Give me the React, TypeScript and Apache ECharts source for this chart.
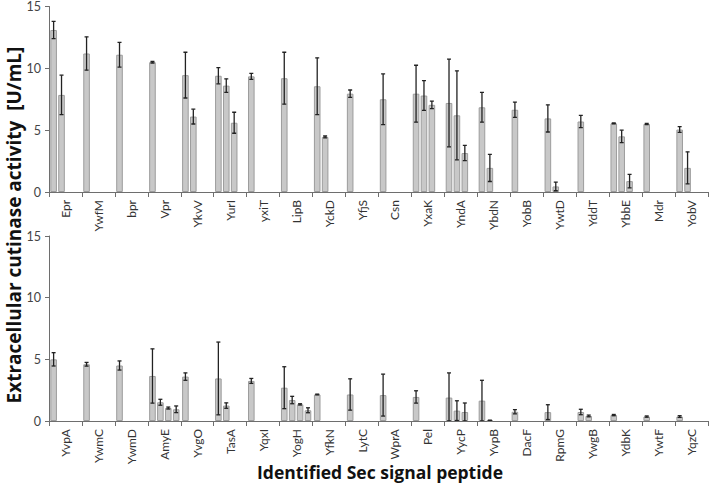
import React, { useEffect, useRef } from "react";
import * as echarts from "echarts";

// ---- Data (top panel) ----
const topCategories = ["Epr", "YwfM", "bpr", "Vpr", "YkvV", "YurI", "yxiT", "LipB", "YckD", "YfjS", "Csn", "YxaK", "YndA", "YbdN", "YobB", "YwtD", "YddT", "YbbE", "Mdr", "YobV"];
const topS1 = [13.1, 11.2, 11.1, 10.5, 9.45, 9.4, 9.35, 9.2, 8.55, 7.95, 7.5, 7.95, 7.2, 6.85, 6.65, 5.95, 5.7, 5.55, 5.5, 5.05];
const topE1 = [0.7, 1.35, 1.0, 0.07, 1.85, 0.65, 0.25, 2.1, 2.3, 0.3, 2.05, 2.3, 3.55, 1.2, 0.62, 1.1, 0.5, 0.03, 0.05, 0.23];
const topS2 = [7.85, null, null, null, 6.1, 8.6, null, null, 4.45, null, null, 7.8, 6.2, 1.95, null, 0.45, null, 4.5, null, 1.95];
const topE2 = [1.6, null, null, null, 0.6, 0.55, null, null, 0.08, null, null, 1.2, 3.6, 1.1, null, 0.35, null, 0.5, null, 1.3];
const topS3 = [null, null, null, null, null, 5.6, null, null, null, null, null, 7.05, 3.15, null, null, null, null, 0.88, null, null];
const topE3 = [null, null, null, null, null, 0.85, null, null, null, null, null, 0.3, 0.62, null, null, null, null, 0.55, null, null];
const topS4 = [null, null, null, null, null, null, null, null, null, null, null, null, null, null, null, null, null, null, null, null];
const topE4 = [null, null, null, null, null, null, null, null, null, null, null, null, null, null, null, null, null, null, null, null];

// ---- Data (bottom panel) ----
const botCategories = ["YvpA", "YwmC", "YwmD", "AmyE", "YvgO", "TasA", "YqxI", "YogH", "YfkN", "LytC", "WprA", "Pel", "YycP", "YvpB", "DacF", "RpmG", "YwgB", "YdbK", "YwtF", "YqzC"];
const botS1 = [5.0, 4.6, 4.5, 3.65, 3.6, 3.45, 3.25, 2.7, 2.15, 2.15, 2.1, 1.95, 1.9, 1.65, 0.75, 0.72, 0.73, 0.48, 0.36, 0.36];
const botE1 = [0.54, 0.15, 0.37, 2.2, 0.3, 2.95, 0.2, 1.7, 0.03, 1.27, 1.7, 0.5, 2.0, 1.65, 0.17, 0.6, 0.22, 0.05, 0.05, 0.07];
const botS2 = [null, null, null, 1.52, null, 1.25, null, 1.7, null, null, null, null, 0.84, 0.05, null, null, 0.41, null, null, null];
const botE2 = [null, null, null, 0.24, null, 0.22, null, 0.3, null, null, null, null, 0.8, 0.02, null, null, 0.07, null, null, null];
const botS3 = [null, null, null, 1.05, null, null, null, 1.35, null, null, null, null, 0.73, null, null, null, null, null, null, null];
const botE3 = [null, null, null, 0.08, null, null, null, 0.05, null, null, null, null, 0.73, null, null, null, null, null, null, null];
const botS4 = [null, null, null, 0.95, null, null, null, 0.87, null, null, null, null, null, null, null, null, null, null, null, null];
const botE4 = [null, null, null, 0.27, null, null, null, 0.2, null, null, null, null, null, null, null, null, null, null, null, null];

const yTicks = { min: 0, max: 15, interval: 5 };
const yTitle = "Extracellular cutinase activity  [U/mL]";
const xTitle = "Identified Sec signal peptide";

const CAT_GAP = 0.08;
const BAR_GAP = 0.2;
const N_SLOTS = 4;

const FONT = "Lato, 'Open Sans', sans-serif";
const TITLE_FONT = "'Open Sans', Lato, sans-serif";

function barSeries(vals: (number | null)[], axis: number) {
  return {
    type: "bar",
    xAxisIndex: axis,
    yAxisIndex: axis,
    data: vals.map((v) => (v == null ? "-" : v)),
    barCategoryGap: CAT_GAP * 100 + "%",
    barGap: BAR_GAP * 100 + "%",
    itemStyle: { color: "#c8c8c8", borderColor: "#9c9c9c", borderWidth: 1 },
    silent: true,
  };
}

function errSeries(vals: (number | null)[], errs: (number | null)[], slot: number, axis: number) {
  const data: number[][] = [];
  vals.forEach((v, i) => {
    if (v != null && errs[i] != null) data.push([i, v, errs[i] as number]);
  });
  return {
    type: "custom",
    xAxisIndex: axis,
    yAxisIndex: axis,
    data,
    silent: true,
    clip: true,
    z: 5,
    renderItem: (params: any, api: any) => {
      const xi = api.value(0);
      const v = api.value(1);
      const e = api.value(2);
      const c = api.coord([xi, v]);
      const catW = api.size([1, 0])[0];
      const inner = catW * (1 - CAT_GAP);
      const w = inner / (N_SLOTS + (N_SLOTS - 1) * BAR_GAP);
      const cx = c[0] - inner / 2 + slot * w * (1 + BAR_GAP) + w / 2;
      const yTop = api.coord([xi, v + e])[1];
      const yBot = api.coord([xi, Math.max(0, v - e)])[1];
      const cap = 2;
      const st = { stroke: "#222", lineWidth: 1.3 };
      return {
        type: "group",
        children: [
          { type: "line", shape: { x1: cx, y1: yTop, x2: cx, y2: yBot }, style: st },
          { type: "line", shape: { x1: cx - cap, y1: yTop, x2: cx + cap, y2: yTop }, style: st },
          { type: "line", shape: { x1: cx - cap, y1: yBot, x2: cx + cap, y2: yBot }, style: st },
        ],
      };
    },
  };
}

function xAxisDef(cats: string[], idx: number) {
  return {
    type: "category",
    gridIndex: idx,
    data: cats,
    boundaryGap: true,
    axisLine: { show: true, lineStyle: { color: "#6e6e6e", width: 1 } },
    axisTick: { show: true, length: 5, lineStyle: { color: "#6e6e6e" } },
    axisLabel: { rotate: 90, interval: 0, fontSize: 12, color: "#333", fontFamily: FONT, margin: 8 },
  };
}

function yAxisDef(idx: number) {
  return {
    type: "value",
    gridIndex: idx,
    min: yTicks.min,
    max: yTicks.max,
    interval: yTicks.interval,
    splitLine: { show: false },
    axisLine: { show: true, lineStyle: { color: "#6e6e6e", width: 1 } },
    axisTick: { show: true, length: 4, lineStyle: { color: "#6e6e6e" } },
    axisLabel: { fontSize: 12.5, color: "#444", fontFamily: FONT, margin: 8 },
  };
}

export default function App() {
  const ref = useRef<HTMLDivElement>(null);
  useEffect(() => {
    if (!ref.current) return;
    const chart = echarts.init(ref.current, null, { renderer: "svg" });
    chart.setOption({
      animation: false,
      backgroundColor: "#fff",
      grid: [
        { left: 49, top: 5, width: 659, height: 187 },
        { left: 49, top: 236, width: 659, height: 185 },
      ],
      xAxis: [xAxisDef(topCategories, 0), xAxisDef(botCategories, 1)],
      yAxis: [yAxisDef(0), yAxisDef(1)],
      series: [
        barSeries(topS1, 0),
        barSeries(topS2, 0),
        barSeries(topS3, 0),
        barSeries(topS4, 0),
        barSeries(botS1, 1),
        barSeries(botS2, 1),
        barSeries(botS3, 1),
        barSeries(botS4, 1),
        errSeries(topS1, topE1, 0, 0),
        errSeries(topS2, topE2, 1, 0),
        errSeries(topS3, topE3, 2, 0),
        errSeries(topS4, topE4, 3, 0),
        errSeries(botS1, botE1, 0, 1),
        errSeries(botS2, botE2, 1, 1),
        errSeries(botS3, botE3, 2, 1),
        errSeries(botS4, botE4, 3, 1),
      ],
      graphic: [
        {
          type: "text",
          x: 14,
          y: 225,
          rotation: Math.PI / 2,
          style: {
            text: yTitle,
            fontSize: 19,
            fontWeight: "bold",
            fontFamily: TITLE_FONT,
            fill: "#111",
            align: "center",
            verticalAlign: "middle",
          },
        },
        {
          type: "text",
          x: 380,
          y: 472,
          style: {
            text: xTitle,
            fontSize: 17.5,
            fontWeight: "bold",
            fontFamily: TITLE_FONT,
            fill: "#111",
            align: "center",
            verticalAlign: "middle",
          },
        },
      ],
    });
    return () => chart.dispose();
  }, []);
  return <div ref={ref} style={{ width: 709, height: 487, position: "absolute", left: 0, top: 0 }} />;
}
